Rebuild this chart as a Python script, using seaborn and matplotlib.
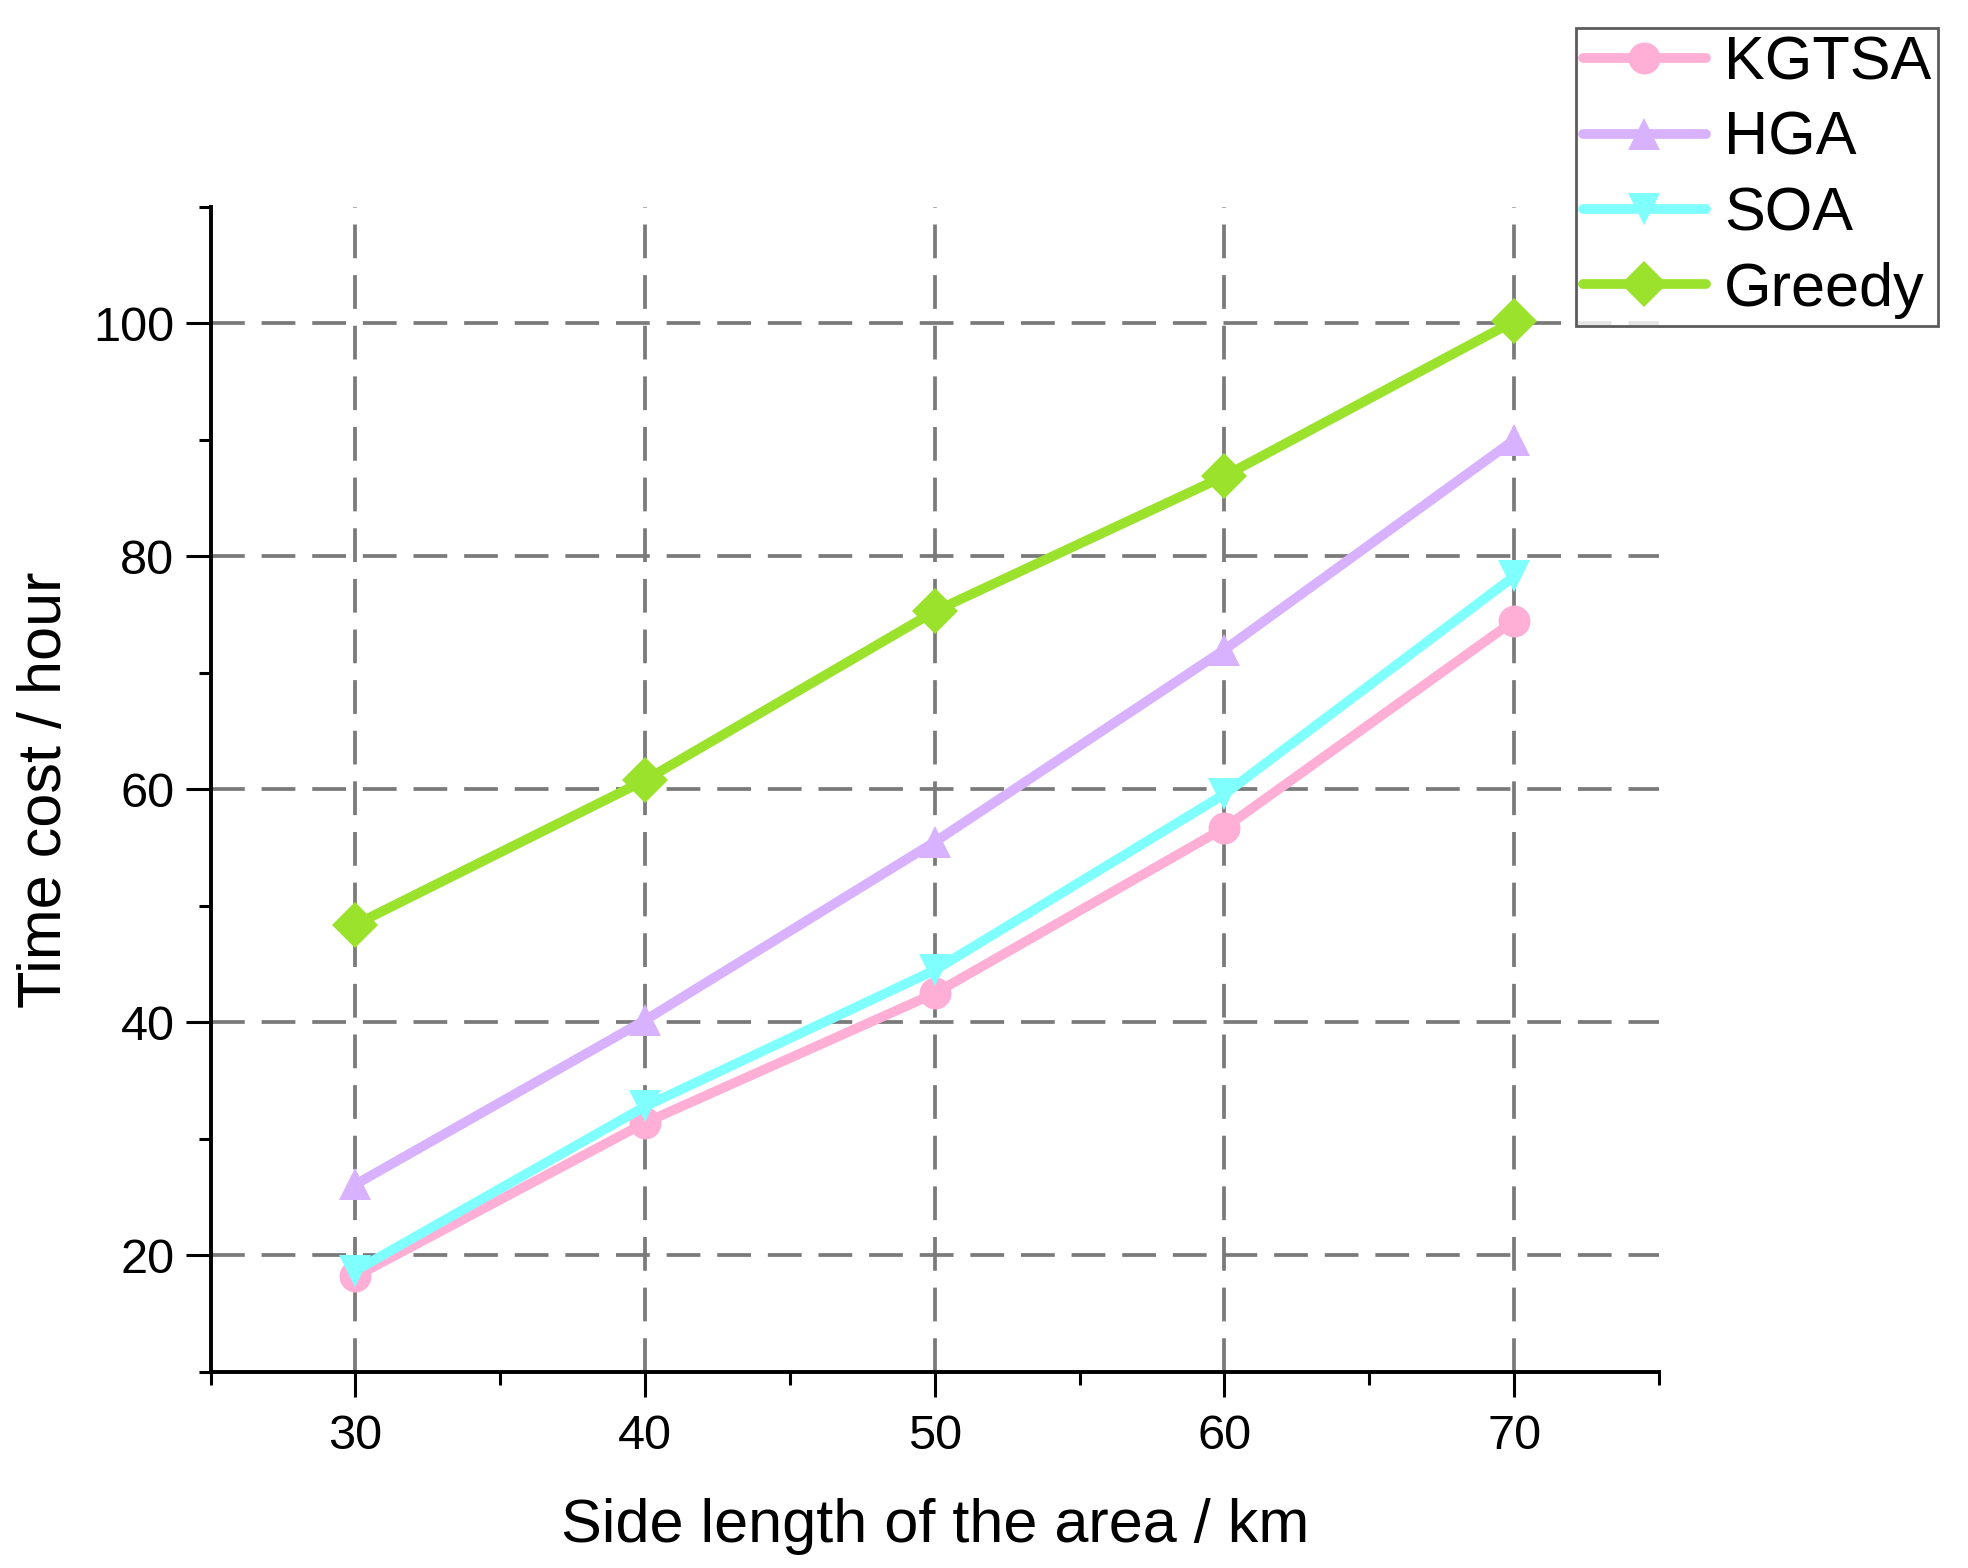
import matplotlib
matplotlib.use("Agg")
import matplotlib.pyplot as plt
from matplotlib.ticker import MultipleLocator
import pandas as pd
import seaborn as sns

# valores
side_km = [30, 40, 50, 60, 70]
kgtsa = [18.2, 31.4, 42.5, 56.7, 74.5]
hga = [26.1, 40.2, 55.5, 72.0, 90.0]
soa = [18.7, 32.8, 44.5, 59.6, 78.3]
greedy = [48.4, 60.8, 75.3, 86.9, 100.2]

metodos = ["KGTSA", "HGA", "SOA", "Greedy"]
series = [kgtsa, hga, soa, greedy]
colores = {"KGTSA": "#FFAED6", "HGA": "#D8B2FF", "SOA": "#80FFFF", "Greedy": "#9AE22C"}
marcadores = {"KGTSA": "o", "HGA": "^", "SOA": "v", "Greedy": "D"}

filas = []
for nombre, vals in zip(metodos, series):
    for x, y in zip(side_km, vals):
        filas.append({"side": x, "time": y, "method": nombre})
df = pd.DataFrame(filas)

sns.set_style("white")
plt.rcParams["font.family"] = ["Liberation Sans", "DejaVu Sans"]
plt.rcParams["text.color"] = "black"
plt.rcParams["axes.labelcolor"] = "black"
plt.rcParams["xtick.color"] = "black"
plt.rcParams["ytick.color"] = "black"

fig = plt.figure(figsize=(19.68, 15.68), dpi=100)
ax = fig.add_axes([0.107, 0.125, 0.736, 0.743])

sns.lineplot(data=df, x="side", y="time", hue="method", style="method",
             hue_order=metodos, style_order=metodos, palette=colores,
             markers=marcadores, dashes=False, linewidth=7, markersize=23,
             markeredgewidth=0, ax=ax, zorder=3)

ax.set_xlim(25, 75)
ax.set_ylim(10, 110)
ax.xaxis.set_major_locator(MultipleLocator(10))
ax.xaxis.set_minor_locator(MultipleLocator(5))
ax.yaxis.set_major_locator(MultipleLocator(20))
ax.yaxis.set_minor_locator(MultipleLocator(10))
ax.set_yticks([20, 40, 60, 80, 100])

ax.grid(True, which="major", color="#7a7a7a", linestyle=(0, (9, 4.5)), linewidth=2.7, zorder=1)
ax.set_axisbelow(True)

for lado in ["top", "right"]:
    ax.spines[lado].set_visible(False)
for lado in ["left", "bottom"]:
    ax.spines[lado].set_color("black")
    ax.spines[lado].set_linewidth(2.8)

ax.tick_params(axis="both", which="major", direction="out", length=18, width=2.2,
               color="black", labelcolor="black", labelsize=35)
ax.tick_params(axis="both", which="minor", direction="out", length=9, width=2.2,
               color="black")
ax.tick_params(axis="x", which="both", bottom=True, pad=12)
ax.tick_params(axis="y", which="both", left=True, pad=8)

ax.set_xlabel("Side length of the area / km", fontsize=44, labelpad=28, color="black")
ax.set_ylabel("Time cost / hour", fontsize=44, labelpad=14, color="black")

leg = ax.legend(loc="upper right", bbox_to_anchor=(0.985, 0.982),
                bbox_transform=fig.transFigure, fontsize=44, frameon=True,
                fancybox=False, handlelength=2.0, handletextpad=0.3,
                labelspacing=0.3, borderpad=0.12, borderaxespad=0)
leg.get_frame().set_edgecolor("#333333")
leg.get_frame().set_linewidth(2)
for texto in leg.get_texts():
    texto.set_color("black")
for linea in leg.get_lines():
    linea.set_linewidth(7)
    linea.set_markersize(23)

fig.savefig("out.png", dpi=100)
